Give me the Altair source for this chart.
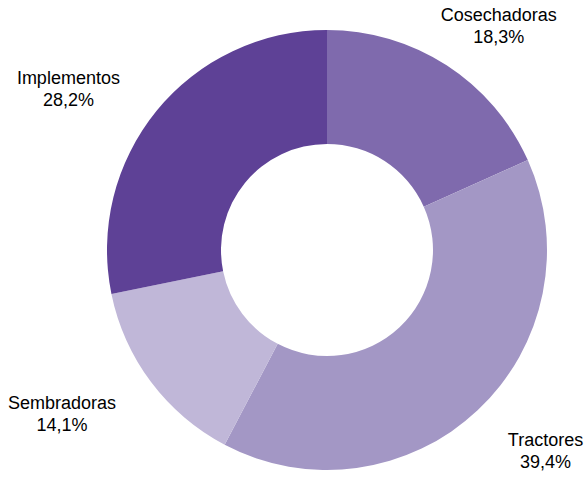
import altair as alt
import pandas as pd

categories = ["Cosechadoras", "Tractores", "Sembradoras", "Implementos"]
values = [18.3, 39.4, 14.1, 28.2]
order = [1, 2, 3, 4]
colors = ["#7f6aad", "#a397c5", "#c0b7d8", "#5e4196"]

df = pd.DataFrame({"cat": categories, "val": values, "ord": order})

theta_scale = alt.Scale(domain=[0, 100])

arcs = alt.Chart(df).mark_arc(innerRadius=106, outerRadius=220, stroke=None).encode(
    theta=alt.Theta("val:Q", stack=True, scale=theta_scale),
    order=alt.Order("ord:Q"),
    color=alt.Color("cat:N", scale=alt.Scale(domain=categories, range=colors), legend=None),
)

offsets = {
    "Cosechadoras": (14, 9),
    "Tractores": (20, -20),
    "Sembradoras": (-33, -20),
    "Implementos": (-34, 12),
}

labels = []
for c in categories:
    dx, dy = offsets[c]
    t = alt.Chart(df).transform_window(
        cum="sum(val)", sort=[alt.SortField("ord")]
    ).transform_calculate(
        mid="datum.cum - datum.val / 2",
        label="datum.cat + '\\n' + replace(format(datum.val, '.1f'), '.', ',') + '%'",
    ).transform_filter(alt.datum.cat == c).mark_text(
        radius=290, dx=dx, dy=dy, fontSize=18, font="Liberation Sans",
        color="#000000", align="center", baseline="middle", lineBreak="\n", lineHeight=22,
    ).encode(
        theta=alt.Theta("mid:Q", stack=None, scale=theta_scale),
        text="label:N",
    )
    labels.append(t)

chart = alt.layer(arcs, *labels).properties(
    width=520, height=490,
    autosize=alt.AutoSizeParams(type="none"),
    padding={"left": 67, "top": 5, "right": 0, "bottom": 0},
).configure_view(stroke=None).configure(background="white")

chart.save("out.html", embed_options={"renderer": "svg", "actions": False})
